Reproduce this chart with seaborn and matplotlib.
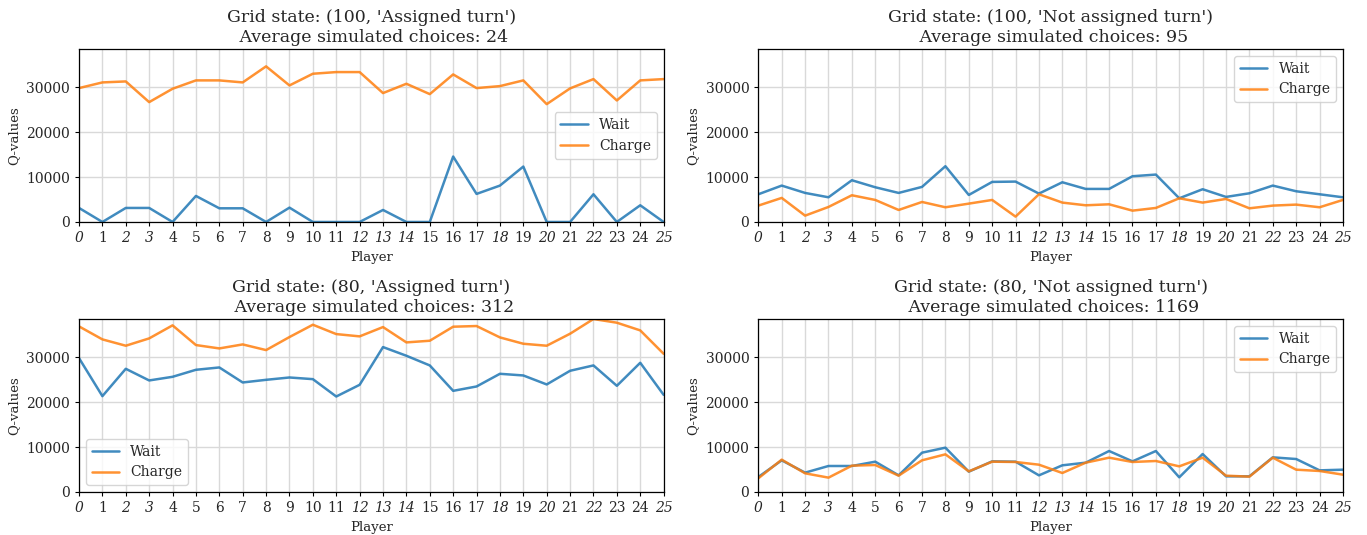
import numpy as np
import pandas as pd
import matplotlib
matplotlib.use("Agg")
import matplotlib.pyplot as plt
import seaborn as sns
from matplotlib import font_manager

players = list(range(26))

titles = [
    "Grid state: (100, 'Assigned turn')\n Average simulated choices: 24",
    "Grid state: (100, 'Not assigned turn')\n Average simulated choices: 95",
    "Grid state: (80, 'Assigned turn')\n Average simulated choices: 312",
    "Grid state: (80, 'Not assigned turn')\n Average simulated choices: 1169",
]

wait_100_assigned = [3120, 0, 3120, 3120, 0, 5790, 3040, 3040, 0, 3190, 0, 0, 0,
                     2670, 0, 0, 14550, 6240, 8090, 12320, 0, 0, 6160, 0, 3710, 0]
charge_100_assigned = [29770, 31030, 31250, 26650, 29620, 31480, 31480, 31030, 34600,
                       30360, 32960, 33330, 33330, 28660, 30730, 28430, 32810, 29770,
                       30210, 31480, 26200, 29700, 31770, 27020, 31480, 31770]

wait_100_not = [6160, 8090, 6460, 5490, 9280, 7720, 6460, 7800, 12400, 6010, 8910, 8980,
                6310, 8830, 7350, 7350, 10170, 10540, 5270, 7280, 5570, 6380, 8090, 6830,
                6160, 5490]
charge_100_not = [3640, 5350, 1410, 3340, 5940, 4900, 2670, 4450, 3270, 4080, 4900, 1190,
                  6160, 4310, 3710, 3930, 2520, 3120, 5270, 4310, 5120, 3040, 3640, 3860,
                  3270, 4900]

wait_80_assigned = [29770, 21310, 27390, 24800, 25610, 27170, 27690, 24350, 24940, 25460,
                    25090, 21230, 23830, 32220, 30290, 28140, 22490, 23460, 26280, 25910,
                    23910, 26950, 28140, 23610, 28730, 21600]
charge_80_assigned = [36820, 33930, 32520, 34150, 37050, 32670, 31920, 32810, 31550, 34450,
                      37190, 35110, 34600, 36670, 33260, 33630, 36750, 36900, 34370, 32960,
                      32520, 35190, 38460, 37640, 35930, 30730]

wait_80_not = [3330, 7040, 4300, 5780, 5780, 6740, 3700, 8740, 9850, 4520, 6810, 6740,
               3700, 5930, 6520, 9110, 6810, 9110, 3260, 8440, 3480, 3480, 7700, 7330,
               4810, 4960]
charge_80_not = [3040, 7190, 4150, 3190, 5850, 6000, 3630, 7040, 8370, 4590, 6740, 6670,
                 6070, 4220, 6520, 7630, 6670, 6890, 5700, 7630, 3630, 3410, 7630, 4960,
                 4670, 3850]

series = [
    (wait_100_assigned, charge_100_assigned),
    (wait_100_not, charge_100_not),
    (wait_80_assigned, charge_80_assigned),
    (wait_80_not, charge_80_not),
]
legend_locs = ["center right", "upper right", "lower left", "upper right"]
italic_ticks = {0, 2, 3, 12, 13, 14, 18, 20, 22, 25}

sns.set_style("whitegrid", {
    "axes.edgecolor": "black",
    "grid.color": "#d9d9d9",
    "xtick.bottom": True,
    "ytick.left": True,
})
plt.rcParams["font.family"] = ["DejaVu Serif"]

available = {f.name for f in font_manager.fontManager.ttflist}
title_family = "DejaVu Serif Condensed" if "DejaVu Serif Condensed" in available else "DejaVu Serif"
title_size = 13.5 if title_family == "DejaVu Serif Condensed" else 12.5

fig, axes = plt.subplots(2, 2, figsize=(13.67, 5.35), dpi=100)
fig.subplots_adjust(left=0.0578, right=0.9824, top=0.9084, bottom=0.0804,
                    wspace=0.162, hspace=0.561)

ymax = max(max(max(w), max(c)) for w, c in series)

for ax, title, (w, c), loc in zip(axes.flat, titles, series, legend_locs):
    df = pd.DataFrame({
        "Player": players * 2,
        "Q-values": list(w) + list(c),
        "Action": ["Wait"] * len(w) + ["Charge"] * len(c),
    })
    sns.lineplot(data=df, x="Player", y="Q-values", hue="Action", ax=ax,
                 palette=["tab:blue", "tab:orange"], linewidth=1.8, alpha=0.85)
    ax.set_xlim(0, 25)
    ax.set_ylim(0, ymax)
    ax.set_xticks(players)
    ax.set_yticks([0, 10000, 20000, 30000])
    ax.tick_params(axis="both", labelsize=10, length=3, width=0.8, color="black")
    for lab in ax.get_xticklabels():
        if int(lab.get_text()) in italic_ticks:
            lab.set_fontstyle("italic")
    ax.set_title(title, fontsize=title_size, linespacing=1.2, family=title_family,
                 pad=5)
    ax.set_xlabel("Player", fontsize=9.5)
    ax.set_ylabel("Q-values", fontsize=9.5)
    for sp in ax.spines.values():
        sp.set_color("black")
        sp.set_linewidth(0.9)
    ax.grid(True, color="#d9d9d9", linewidth=1)
    leg = ax.legend(loc=loc, fontsize=10, frameon=True)
    leg.set_title(None)
    leg.get_frame().set_edgecolor("#cccccc")

fig.savefig("out.png", dpi=100)
